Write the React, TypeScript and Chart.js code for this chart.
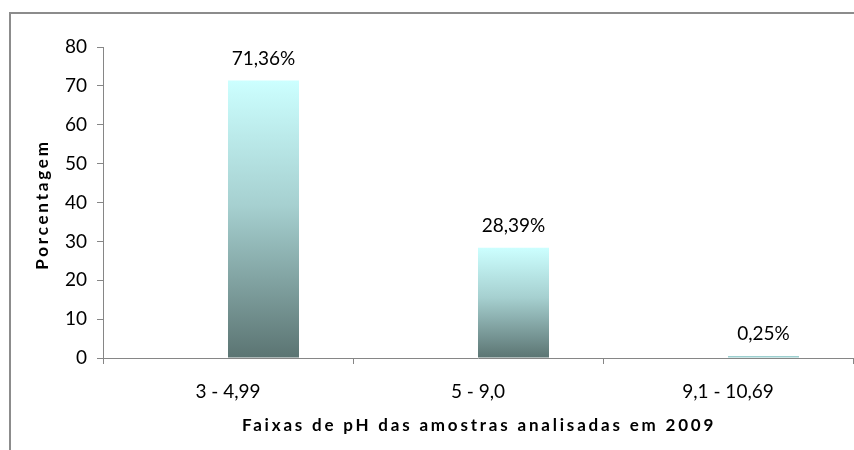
import React, { useEffect, useRef } from "react";
import { Chart, registerables } from "chart.js";

Chart.register(...registerables);

const categories = ["3 - 4,99", "5 - 9,0", "9,1 - 10,69"];
const emptySeries: (number | null)[] = [null, null, null];
const percentages = [71.36, 28.39, 0.25];
const valueLabels = ["71,36%", "28,39%", "0,25%"];
const yTitle = "Porcentagem";
const xTitle = "Faixas de pH das amostras analisadas em 2009";

const FONT = "Lato, 'Open Sans', sans-serif";
const AXIS_GRAY = "#868686";

export default function App() {
  const canvasRef = useRef<HTMLCanvasElement | null>(null);

  useEffect(() => {
    const canvas = canvasRef.current;
    if (!canvas) return;

    const labelsPlugin = {
      id: "labelsAndTitles",
      afterDraw(chart: any) {
        const ctx = chart.ctx;
        const meta = chart.getDatasetMeta(1);
        ctx.save();
        ctx.fillStyle = "#000";
        ctx.font = `19px ${FONT}`;
        ctx.textAlign = "center";
        ctx.textBaseline = "alphabetic";
        meta.data.forEach((el: any, i: number) => {
          ctx.fillText(valueLabels[i], el.x, el.y - 16);
        });
        const area = chart.chartArea;
        ctx.font = `bold 17px ${FONT}`;
        (ctx as any).letterSpacing = "2.8px";
        ctx.fillText(xTitle, (area.left + area.right) / 2 + 1, 431);
        ctx.textBaseline = "middle";
        ctx.translate(43, (area.top + area.bottom) / 2 + 2);
        ctx.rotate(-Math.PI / 2);
        ctx.fillText(yTitle, 0, 0);
        ctx.restore();
      },
    };

    const gradientFill = (c: any) => {
      const chart = c.chart;
      const y = chart.scales?.y;
      if (!y || c.raw == null) return "#9CCFCF";
      const top = y.getPixelForValue(c.raw);
      const base = y.getPixelForValue(0);
      if (!isFinite(top) || !isFinite(base) || Math.abs(base - top) < 3) return "#9CCFCF";
      const g = chart.ctx.createLinearGradient(0, top, 0, base);
      g.addColorStop(0, "#CCFFFF");
      g.addColorStop(0.45, "#A6D0D0");
      g.addColorStop(1, "#5B7472");
      return g;
    };

    const chart = new Chart(canvas, {
      type: "bar",
      data: {
        labels: categories,
        datasets: [
          { label: "vazio", data: emptySeries, backgroundColor: "transparent" },
          { label: "pH", data: percentages, backgroundColor: gradientFill, minBarLength: 2 },
        ],
      },
      options: {
        responsive: false,
        animation: false,
        layout: { padding: { top: 47, left: 0, right: 1, bottom: 0 } },
        plugins: { legend: { display: false }, tooltip: { enabled: false } },
        datasets: { bar: { categoryPercentage: 0.568, barPercentage: 1.0 } },
        scales: {
          x: {
            afterFit: (s: any) => {
              s.height = 92;
            },
            border: { display: true, color: AXIS_GRAY, width: 1 },
            grid: {
              display: true,
              drawOnChartArea: false,
              drawTicks: true,
              tickLength: 6,
              color: AXIS_GRAY,
              offset: true,
            },
            ticks: { color: "#000", padding: 16, font: { family: FONT, size: 19 } },
          },
          y: {
            min: 0,
            max: 80,
            afterFit: (s: any) => {
              s.width = 103;
            },
            border: { display: true, color: AXIS_GRAY, width: 1 },
            grid: {
              display: true,
              drawOnChartArea: false,
              drawTicks: true,
              tickLength: 6,
              color: AXIS_GRAY,
            },
            ticks: { stepSize: 10, color: "#000", padding: 10, font: { family: FONT, size: 19 } },
          },
        },
      },
      plugins: [labelsPlugin],
    });

    return () => chart.destroy();
  }, []);

  return (
    <div
      style={{
        position: "fixed",
        left: 0,
        top: 0,
        width: 854,
        height: 450,
        overflow: "hidden",
        background: "#fff",
      }}
    >
      <div
        style={{
          position: "absolute",
          left: 9,
          top: 12,
          width: 900,
          height: 500,
          border: "2px solid #8c8c8c",
          boxSizing: "border-box",
        }}
      />
      <canvas
        ref={canvasRef}
        width={854}
        height={450}
        style={{ position: "absolute", left: 0, top: 0, width: 854, height: 450 }}
      />
    </div>
  );
}
